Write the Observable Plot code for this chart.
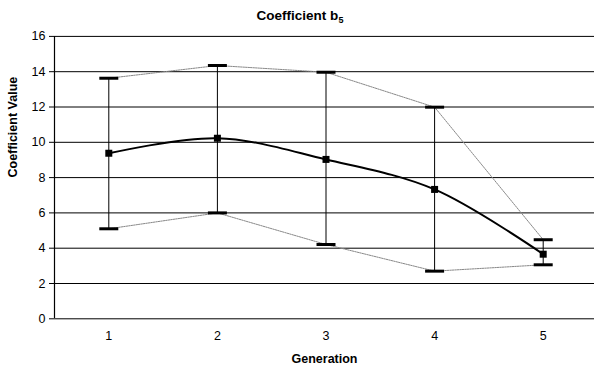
<!DOCTYPE html>
<html>
<head>
<meta charset="utf-8">
<script src="https://cdn.jsdelivr.net/npm/d3@7"></script>
<script src="https://cdn.jsdelivr.net/npm/@observablehq/plot@0.6"></script>
<style>
  html, body { margin: 0; padding: 0; background: #fff; }
  #wrap { position: relative; width: 594px; height: 373px; font-family: "Liberation Sans", Arial, sans-serif; }
  #title { position: absolute; left: 0; width: 600px; top: 8px; text-align: center; font-weight: bold; font-size: 13.5px; line-height: 16px; color: #000; }
  #title sub { font-size: 9px; vertical-align: -3px; line-height: 0; }
</style>
</head>
<body>
<div id="wrap"><div id="title">Coefficient b<sub>5</sub></div></div>
<script>
const generations = [1, 2, 3, 4, 5];
const meanValues = [9.38, 10.23, 9.03, 7.33, 3.66];
const upperValues = [13.63, 14.35, 13.97, 11.99, 4.48];
const lowerValues = [5.10, 6.00, 4.21, 2.70, 3.06];
const yTicks = [0, 2, 4, 6, 8, 10, 12, 14, 16];

const data = generations.map((g, i) => ({g, mean: meanValues[i], upper: upperValues[i], lower: lowerValues[i]}));

const capSymbol = {draw(ctx) { ctx.rect(-9.5, -1.5, 19, 3); }};
const squareSymbol = {draw(ctx) { ctx.rect(-3.5, -3.5, 7, 7); }};

const chart = Plot.plot({
  width: 594,
  height: 373,
  marginLeft: 54,
  marginRight: 0,
  marginTop: 36,
  marginBottom: 55,
  style: {fontFamily: "Liberation Sans, Arial, sans-serif", fontSize: "12px", background: "#fff", color: "#000"},
  x: {type: "linear", domain: [0.5, 5.5], range: [54, 597]},
  y: {domain: [0, 16], range: [318.3, 35.9]},
  marks: [
    Plot.ruleY(yTicks, {stroke: "#000", strokeWidth: 1}),
    Plot.ruleX([0.5], {stroke: "#000", strokeWidth: 1.2}),
    Plot.axisY({ticks: yTicks, tickSize: 5, tickPadding: 4, tickFormat: d => d, fontSize: 12.5, stroke: "#000", label: null}),
    Plot.axisX({ticks: generations, tickSize: 0, tickPadding: 13, tickFormat: d => d, fontSize: 12.5, label: null}),
    Plot.line(data, {x: "g", y: "upper", stroke: "#888", strokeWidth: 1, strokeDasharray: "1.5,1"}),
    Plot.line(data, {x: "g", y: "lower", stroke: "#888", strokeWidth: 1, strokeDasharray: "1.5,1"}),
    Plot.ruleX(data, {x: "g", y1: "lower", y2: "upper", stroke: "#000", strokeWidth: 1}),
    Plot.dot(data, {x: "g", y: "upper", symbol: capSymbol, fill: "#000", stroke: null}),
    Plot.dot(data, {x: "g", y: "lower", symbol: capSymbol, fill: "#000", stroke: null}),
    Plot.line(data, {x: "g", y: "mean", curve: "catmull-rom", stroke: "#000", strokeWidth: 2}),
    Plot.dot(data, {x: "g", y: "mean", symbol: squareSymbol, fill: "#000", stroke: null}),
    Plot.text(["Generation"], {frameAnchor: "bottom", dy: 44, fontWeight: "bold", fontSize: 12.5, text: d => d}),
    Plot.text(["Coefficient Value"], {frameAnchor: "left", dx: -42, rotate: -90, fontWeight: "bold", fontSize: 12.5, text: d => d})
  ]
});
document.getElementById("wrap").appendChild(chart);
chart.style.position = "absolute";
chart.style.left = "0";
chart.style.top = "0";
document.getElementById("wrap").appendChild(document.getElementById("title"));
</script>
</body>
</html>
